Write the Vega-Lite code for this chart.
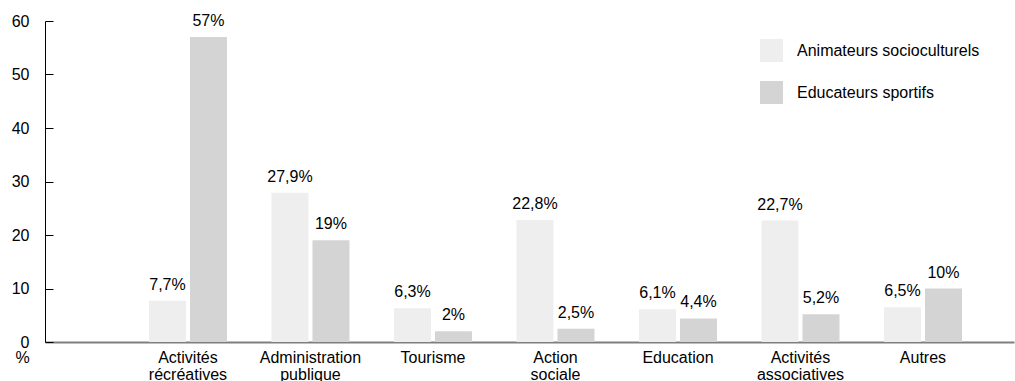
{
  "$schema": "https://vega.github.io/schema/vega-lite/v6.json",
  "autosize": "none",
  "width": 969,
  "height": 321,
  "padding": {"left": 45, "top": 21, "right": 1, "bottom": 39},
  "background": "white",
  "config": {
    "font": "Liberation Sans",
    "view": {"stroke": null},
    "locale": {"number": {"decimal": ",", "thousands": ".", "grouping": [3], "currency": ["", "%"]}},
    "axis": {"labelFont": "Liberation Sans", "titleFont": "Liberation Sans", "labelColor": "#000", "titleColor": "#000"},
    "legend": {"labelFont": "Liberation Sans"}
  },
  "data": {
    "values": [
      {"secteur": "Activités récréatives", "groupe": "Animateurs socioculturels", "value": 7.7},
      {"secteur": "Activités récréatives", "groupe": "Educateurs sportifs", "value": 57},
      {"secteur": "Administration publique", "groupe": "Animateurs socioculturels", "value": 27.9},
      {"secteur": "Administration publique", "groupe": "Educateurs sportifs", "value": 19},
      {"secteur": "Tourisme", "groupe": "Animateurs socioculturels", "value": 6.3},
      {"secteur": "Tourisme", "groupe": "Educateurs sportifs", "value": 2},
      {"secteur": "Action sociale", "groupe": "Animateurs socioculturels", "value": 22.8},
      {"secteur": "Action sociale", "groupe": "Educateurs sportifs", "value": 2.5},
      {"secteur": "Education", "groupe": "Animateurs socioculturels", "value": 6.1},
      {"secteur": "Education", "groupe": "Educateurs sportifs", "value": 4.4},
      {"secteur": "Activités associatives", "groupe": "Animateurs socioculturels", "value": 22.7},
      {"secteur": "Activités associatives", "groupe": "Educateurs sportifs", "value": 5.2},
      {"secteur": "Autres", "groupe": "Animateurs socioculturels", "value": 6.5},
      {"secteur": "Autres", "groupe": "Educateurs sportifs", "value": 10}
    ]
  },
  "encoding": {
    "x": {
      "field": "secteur",
      "type": "nominal",
      "sort": null,
      "scale": {"paddingInner": 0, "paddingOuter": 0.455, "align": 0.733},
      "axis": {
        "title": null,
        "labelAngle": 0,
        "labelExpr": "split(datum.label, ' ')",
        "labelFontSize": 16,
        "labelLineHeight": 17,
        "labelPadding": 7,
        "labelLimit": 0,
        "ticks": false,
        "domainColor": "#7f7f7f",
        "domainWidth": 2,
        "grid": false
      }
    },
    "xOffset": {
      "field": "groupe",
      "type": "nominal",
      "sort": null,
      "scale": {"paddingInner": 0.0976, "paddingOuter": 0.5427}
    },
    "y": {
      "field": "value",
      "type": "quantitative",
      "scale": {"domain": [0, 60], "nice": false},
      "axis": {
        "title": "%",
        "titleAngle": 0,
        "titleX": -23,
        "titleY": 336,
        "titleAlign": "center",
        "titleBaseline": "middle",
        "titleFontSize": 16,
        "titleFontWeight": "normal",
        "values": [0, 10, 20, 30, 40, 50, 60],
        "labelFontSize": 16,
        "tickSize": -8,
        "labelPadding": 24,
        "tickColor": "#000",
        "domainColor": "#000",
        "grid": false
      }
    }
  },
  "layer": [
    {
      "mark": {"type": "bar"},
      "encoding": {
        "color": {
          "field": "groupe",
          "type": "nominal",
          "sort": null,
          "scale": {"range": ["#eeeeee", "#d4d4d4"]},
          "legend": {
            "title": null,
            "orient": "none",
            "legendX": 715,
            "legendY": 18,
            "padding": 0,
            "symbolType": "square",
            "symbolSize": 529,
            "symbolStrokeWidth": 0,
            "symbolOpacity": 1,
            "labelFontSize": 16,
            "labelOffset": 14,
            "labelLimit": 0,
            "rowPadding": 19,
            "labelColor": "#000"
          }
        }
      }
    },
    {
      "mark": {"type": "text", "baseline": "alphabetic", "dy": -11, "fontSize": 16, "color": "#000"},
      "encoding": {
        "text": {"field": "value", "type": "quantitative", "format": "$.1~f"}
      }
    }
  ]
}
